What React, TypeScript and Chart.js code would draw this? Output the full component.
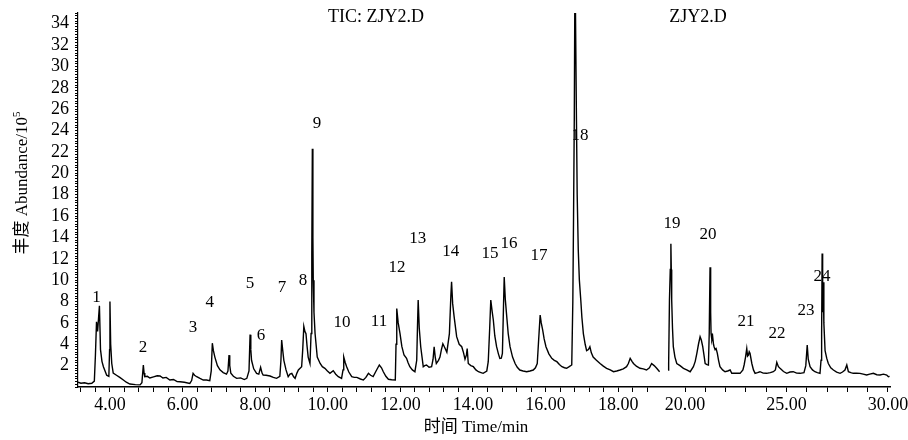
import React, { useEffect, useRef } from 'react';
import { Chart, registerables, LinearScale } from 'chart.js';

Chart.register(...registerables);

// ---- Data: first trace (TIC: ZJY2.D), time in min, abundance in 10^5 ----
const tic1Time = [
  3.12, 3.2, 3.3, 3.4, 3.5, 3.57, 3.6, 3.63, 3.66, 3.71, 3.74, 3.78, 3.82, 3.91, 3.97, 3.99, 4.0, 4.02, 4.05, 4.09,
  4.18, 4.27, 4.37, 4.45, 4.55, 4.7, 4.83, 4.88, 4.92, 4.94, 4.96, 5.03, 5.1, 5.2, 5.3, 5.38, 5.46, 5.55, 5.65, 5.75,
  5.85, 5.93, 6.05, 6.2, 6.25, 6.29, 6.33, 6.39, 6.48, 6.57, 6.66, 6.75, 6.79, 6.82, 6.85, 6.89, 6.96, 7.03, 7.12, 7.21,
  7.25, 7.28, 7.3, 7.33, 7.4, 7.49, 7.6, 7.7, 7.77, 7.83, 7.86, 7.88, 7.9, 7.96, 8.04, 8.1, 8.15, 8.19, 8.22, 8.3,
  8.41, 8.5, 8.59, 8.68, 8.71, 8.73, 8.76, 8.79, 8.85, 8.91, 8.96, 9.01, 9.06, 9.1, 9.15, 9.19, 9.28, 9.31, 9.34, 9.37,
  9.4, 9.43, 9.46, 9.51, 9.54, 9.56, 9.575, 9.59, 9.6, 9.62, 9.65, 9.71, 9.79, 9.85, 9.92, 9.99, 10.06, 10.15, 10.22, 10.29,
  10.38, 10.42, 10.44, 10.48, 10.52, 10.58, 10.66, 10.73, 10.8, 10.9, 10.98, 11.05, 11.12, 11.18, 11.25, 11.33, 11.42, 11.48, 11.53, 11.6,
  11.67, 11.76, 11.86, 11.88, 11.9, 11.94, 11.99, 12.04, 12.1, 12.17, 12.21, 12.26, 12.33, 12.4, 12.45, 12.47, 12.49, 12.52, 12.56, 12.63,
  12.67, 12.72, 12.79, 12.86, 12.9, 12.93, 12.96, 12.99, 13.05, 13.09, 13.13, 13.17, 13.22, 13.28, 13.35, 13.39, 13.41, 13.44, 13.48, 13.55,
  13.62, 13.69, 13.74, 13.78, 13.82, 13.84, 13.87, 13.94, 14.01, 14.08, 14.15, 14.22, 14.28, 14.38, 14.42, 14.46, 14.49, 14.53, 14.56, 14.6,
  14.65, 14.7, 14.74, 14.78, 14.81, 14.84, 14.86, 14.89, 14.93, 14.97, 15.02, 15.09, 15.16, 15.22, 15.29, 15.38, 15.48, 15.57, 15.66, 15.72,
  15.77, 15.81, 15.85, 15.88, 15.92, 15.96, 16.01, 16.09, 16.17, 16.24, 16.31, 16.38, 16.45, 16.52, 16.58, 16.65, 16.72, 16.75, 16.77, 16.79,
  16.81, 16.83, 16.85, 16.87, 16.9, 16.93, 16.97, 17.0, 17.04, 17.09, 17.13, 17.18, 17.22, 17.26, 17.31, 17.4, 17.5, 17.59, 17.68, 17.78,
  17.87, 17.96, 18.05, 18.14, 18.23, 18.28, 18.33, 18.38, 18.42, 18.5, 18.6, 18.69, 18.78, 18.86, 18.92, 18.99, 19.06, 19.14,
];
const tic1Abund = [
  0.45, 0.35, 0.4, 0.3, 0.35, 0.55, 3.0, 6.1, 5.2, 7.6, 3.5, 2.4, 1.9, 1.1, 1.0, 3.5, 8.0, 4.0, 2.2, 1.3,
  1.1, 0.9, 0.65, 0.45, 0.28, 0.22, 0.2, 0.4, 2.05, 1.3, 0.96, 1.0, 0.84, 0.95, 1.05, 1.03, 0.84, 0.9, 0.65, 0.7,
  0.5, 0.49, 0.45, 0.34, 0.6, 1.28, 1.1, 0.96, 0.8, 0.65, 0.65, 0.59, 1.5, 4.1, 3.4, 2.8, 2.0, 1.6, 1.35, 1.2,
  1.5, 2.98, 2.0, 1.28, 1.0, 0.81, 0.85, 0.7, 0.81, 1.5, 4.9, 3.5, 2.5, 1.7, 1.28, 1.2, 1.84, 1.3, 1.12, 1.1,
  1.03, 0.9, 0.81, 1.0, 2.5, 4.4, 3.4, 2.5, 1.6, 0.97, 1.2, 1.28, 0.95, 0.81, 1.3, 1.59, 1.9, 3.5, 5.67, 5.2,
  5.0, 3.8, 2.8, 2.2, 5.0, 12.5, 22.3, 14.0, 10.0, 7.0, 5.0, 2.8, 2.2, 1.9, 1.75, 1.5, 1.28, 1.53, 1.2, 0.97,
  0.81, 1.6, 2.8, 2.3, 1.9, 1.4, 0.97, 0.9, 0.9, 0.75, 0.65, 0.9, 1.28, 1.1, 0.97, 1.5, 2.06, 1.8, 1.43, 1.0,
  0.72, 0.68, 0.65, 4.0, 7.35, 6.0, 5.0, 3.8, 2.99, 2.68, 2.3, 1.9, 1.6, 1.43, 2.5, 5.5, 8.14, 5.5, 3.77, 1.9,
  2.0, 2.06, 1.85, 1.9, 2.6, 3.77, 2.8, 2.2, 2.5, 2.8, 3.5, 4.05, 3.7, 3.26, 5.0, 8.5, 9.85, 7.8, 6.58, 4.71,
  4.0, 3.77, 3.2, 2.6, 3.0, 3.6, 2.2, 2.0, 1.9, 1.6, 1.43, 1.35, 1.28, 1.5, 2.37, 5.5, 8.14, 7.0, 6.27, 4.8,
  3.77, 3.1, 2.68, 2.7, 3.15, 7.5, 10.3, 8.2, 6.58, 5.0, 3.77, 2.8, 2.2, 1.85, 1.59, 1.5, 1.43, 1.5, 1.59, 1.8,
  2.2, 4.5, 6.74, 6.0, 5.33, 4.5, 3.77, 3.1, 2.68, 2.5, 2.37, 2.1, 1.9, 1.8, 1.75, 1.9, 2.06, 8.0, 16.0, 25.0,
  40.0, 40.0, 25.0, 18.0, 12.8, 10.0, 8.1, 6.5, 5.0, 4.0, 3.4, 3.5, 3.77, 3.2, 2.8, 2.5, 2.2, 1.95, 1.75, 1.6,
  1.43, 1.5, 1.59, 1.7, 1.9, 2.2, 2.68, 2.4, 2.2, 1.95, 1.75, 1.7, 1.59, 1.8, 2.2, 2.0, 1.75, 1.43,
];

// ---- Data: second trace (ZJY2.D) ----
const tic2Time = [
  19.16, 19.19, 19.23, 19.27, 19.3, 19.32, 19.34, 19.38, 19.42, 19.5, 19.59, 19.75, 19.92, 20.08, 20.25, 20.41, 20.5, 20.58, 20.66, 20.74,
  20.8, 20.87, 20.93, 20.99, 21.08, 21.15, 21.19, 21.23, 21.26, 21.28, 21.32, 21.36, 21.4, 21.43, 21.48, 21.53, 21.59, 21.65, 21.72, 21.85,
  21.97, 22.1, 22.22, 22.3, 22.5, 22.71, 22.85, 22.91, 22.98, 23.04, 23.08, 23.12, 23.16, 23.2, 23.29, 23.37, 23.45, 23.57, 23.69, 23.85,
  24.02, 24.2, 24.35, 24.45, 24.52, 24.6, 24.68, 24.85, 25.01, 25.17, 25.33, 25.5, 25.67, 25.86, 25.95, 26.02, 26.07, 26.16, 26.28, 26.4,
  26.52, 26.65, 26.7, 26.73, 26.755, 26.77, 26.79, 26.81, 26.84, 26.9, 26.98, 27.06, 27.18, 27.31, 27.47, 27.64, 27.76, 27.88, 27.97, 28.05,
  28.17, 28.29, 28.45, 28.62, 28.78, 28.95, 29.1, 29.28, 29.45, 29.61, 29.78, 29.94, 30.02, 30.08,
];
const tic2Abund = [
  1.59, 2.2, 8.14, 11.0, 13.4, 11.0, 8.14, 5.5, 3.77, 2.8, 2.2, 2.0, 1.75, 1.6, 1.43, 1.9, 2.4, 3.15, 4.0, 4.71,
  4.4, 3.77, 3.0, 2.2, 2.1, 2.06, 5.0, 11.2, 7.0, 5.0, 4.4, 4.71, 4.0, 3.77, 3.5, 3.6, 3.15, 2.5, 1.9, 1.6,
  1.43, 1.5, 1.59, 1.28, 1.3, 1.28, 1.6, 2.06, 2.8, 3.6, 2.9, 2.99, 3.3, 3.15, 2.2, 1.6, 1.28, 1.35, 1.43, 1.3,
  1.28, 1.35, 1.43, 1.6, 2.3, 1.9, 1.75, 1.45, 1.28, 1.4, 1.43, 1.3, 1.28, 1.34, 2.0, 3.93, 2.6, 1.9, 1.6, 1.43,
  1.35, 1.28, 2.5, 5.0, 12.5, 7.0, 8.0, 9.8, 6.0, 3.4, 2.7, 2.2, 1.8, 1.59, 1.4, 1.28, 1.4, 1.59, 2.06, 1.43,
  1.35, 1.28, 1.3, 1.28, 1.2, 1.12, 1.2, 1.28, 1.15, 1.12, 1.2, 1.12, 0.97, 1.0,
];

// ---- Peak labels ----
const peakNumbers = ['1','2','3','4','5','6','7','8','9','10','11','12','13','14','15','16','17','18','19','20','21','22','23','24'];
const peakLabelTime = [3.63, 4.91, 6.29, 6.75, 7.86, 8.16, 8.74, 9.32, 9.7, 10.39, 11.41, 11.91, 12.48, 13.39, 14.47, 14.99, 15.82, 16.95, 19.36, 21.13, 23.0, 24.53, 25.96, 26.75];
const peakLabelAbund = [8.33, 3.74, 5.61, 7.95, 9.64, 4.86, 9.35, 10.0, 24.7, 5.99, 6.08, 11.2, 13.9, 12.7, 12.5, 13.4, 12.3, 23.5, 15.3, 14.3, 6.08, 5.05, 7.11, 10.3];

const traceTitles = ['TIC: ZJY2.D', 'ZJY2.D'];
const traceTitleTime = [11.33, 20.64];
const traceTitleAbund = [34.6, 34.6];

// ---- Axis ticks and titles ----
const xLabelValues = [4, 6, 8, 10, 12, 14, 16, 18, 20, 25, 30];
const xTickLabels = ['4.00', '6.00', '8.00', '10.00', '12.00', '14.00', '16.00', '18.00', '20.00', '25.00', '30.00'];
const yLabelValues = [2, 4, 6, 8, 10, 12, 14, 16, 18, 20, 22, 24, 26, 28, 30, 32, 34];
const yTickLabels = ['2', '4', '6', '8', '10', '12', '14', '16', '18', '20', '22', '24', '26', '28', '30', '32', '34'];
const xTitle = '时间 Time/min';
const yTitleMain = '丰度 Abundance/10';
const yTitleSup = '5';

const xMinorTicks: number[] = [];
for (let i = 8; i <= 47; i++) xMinorTicks.push(Math.round(i * 40) / 100);
for (let v = 20; v <= 30; v++) xMinorTicks.push(v);

// broken time axis: two segments sharing one axis line
const SEGMENTS = [
  { min: 3.12, max: 19.15, from: 0, to: 0.7167 },
  { min: 19.15, max: 30.1, from: 0.7264, to: 1 },
];

class BrokenTimeScale extends LinearScale {
  static id = 'brokenTime';
  static defaults = {};
  buildTicks() {
    this.min = SEGMENTS[0].min;
    this.max = SEGMENTS[SEGMENTS.length - 1].max;
    return xMinorTicks.map((v) => ({ value: v }));
  }
  getPixelForValue(value: number) {
    let seg = SEGMENTS[0];
    for (const s of SEGMENTS) if (value >= s.min) seg = s;
    const frac = seg.from + ((value - seg.min) / (seg.max - seg.min)) * (seg.to - seg.from);
    return this.left + frac * this.width;
  }
  getValueForPixel(pixel: number) {
    const frac = (pixel - this.left) / this.width;
    let seg = SEGMENTS[0];
    for (const s of SEGMENTS) if (frac >= s.from) seg = s;
    return seg.min + ((frac - seg.from) / (seg.to - seg.from)) * (seg.max - seg.min);
  }
}
Chart.register(BrokenTimeScale as any);

const SERIF = '"Liberation Serif", "Times New Roman", "Noto Sans CJK SC", serif';

const annotationPlugin = {
  id: 'peakAnnotations',
  afterDatasetsDraw(chart: any) {
    const { ctx, scales, chartArea } = chart;
    const x = scales.x;
    const y = scales.y;
    ctx.save();
    ctx.fillStyle = '#000';
    ctx.textAlign = 'center';
    ctx.textBaseline = 'middle';
    ctx.font = `17px ${SERIF}`;
    peakNumbers.forEach((n, i) => {
      ctx.fillText(n, x.getPixelForValue(peakLabelTime[i]), y.getPixelForValue(peakLabelAbund[i]));
    });
    ctx.font = `18px ${SERIF}`;
    traceTitles.forEach((t, i) => {
      ctx.fillText(t, x.getPixelForValue(traceTitleTime[i]), y.getPixelForValue(traceTitleAbund[i]));
    });
    // x-axis title
    ctx.font = `17px ${SERIF}`;
    ctx.fillText(xTitle, (chartArea.left + chartArea.right) / 2 - 8, chartArea.bottom + 41);
    // y-axis title with superscript
    ctx.font = `17px ${SERIF}`;
    const wMain = ctx.measureText(yTitleMain).width;
    ctx.font = `11px ${SERIF}`;
    const wSup = ctx.measureText(yTitleSup).width;
    const total = wMain + wSup;
    const cy = (chartArea.top + chartArea.bottom) / 2 - 17;
    ctx.translate(23, cy);
    ctx.rotate(-Math.PI / 2);
    ctx.textAlign = 'left';
    ctx.font = `17px ${SERIF}`;
    ctx.fillText(yTitleMain, -total / 2, 0);
    ctx.font = `11px ${SERIF}`;
    ctx.fillText(yTitleSup, -total / 2 + wMain, -6);
    ctx.restore();
  },
};

export default function App() {
  const canvasRef = useRef<HTMLCanvasElement | null>(null);

  useEffect(() => {
    document.body.style.margin = '0';
    const canvas = canvasRef.current;
    if (!canvas) return;
    const chart = new Chart(canvas, {
      type: 'line',
      data: {
        datasets: [
          {
            data: tic1Time.map((t, i) => ({ x: t, y: tic1Abund[i] })),
            borderColor: '#000',
            borderWidth: 1.4,
            pointRadius: 0,
            tension: 0,
            fill: false,
          },
          {
            data: tic2Time.map((t, i) => ({ x: t, y: tic2Abund[i] })),
            borderColor: '#000',
            borderWidth: 1.4,
            pointRadius: 0,
            tension: 0,
            fill: false,
          },
        ],
      },
      options: {
        responsive: false,
        animation: false,
        events: [],
        layout: { padding: { top: 13, right: 18, left: 0, bottom: 0 } },
        plugins: { legend: { display: false }, tooltip: { enabled: false } },
        scales: {
          x: {
            type: 'brokenTime' as any,
            min: 3.12,
            max: 30.1,
            ticks: {
              autoSkip: false,
              maxRotation: 0,
              minRotation: 0,
              padding: 2,
              color: '#000',
              font: { family: SERIF, size: 18 },
              callback: (value: any) => {
                const idx = xLabelValues.findIndex((v) => Math.abs(v - Number(value)) < 1e-6);
                return idx >= 0 ? xTickLabels[idx] : '';
              },
            },
            grid: { drawOnChartArea: false, drawTicks: true, tickLength: 5, color: '#000', lineWidth: 1 },
            border: { display: true, color: '#000', width: 1.5 },
            title: { display: false },
            afterFit: (s: any) => {
              s.height = 53;
              s.paddingLeft = 0;
              s.paddingRight = 0;
            },
          } as any,
          y: {
            type: 'linear',
            min: 0,
            max: 35,
            ticks: {
              stepSize: 0.25,
              autoSkip: false,
              padding: 6,
              color: '#000',
              font: { family: SERIF, size: 18 },
              callback: (value: any) => {
                const idx = yLabelValues.findIndex((v) => Math.abs(v - Number(value)) < 1e-6);
                return idx >= 0 ? yTickLabels[idx] : '';
              },
            },
            grid: { drawOnChartArea: false, drawTicks: true, tickLength: 3, color: '#000', lineWidth: 1 },
            border: { display: true, color: '#000', width: 1.2 },
            afterFit: (s: any) => {
              s.width = 78;
              s.paddingTop = 0;
              s.paddingBottom = 0;
            },
          },
        },
      },
      plugins: [annotationPlugin],
    });
    return () => chart.destroy();
  }, []);

  return (
    <div style={{ width: 908, height: 440, background: '#fff' }}>
      <canvas ref={canvasRef} width={908} height={440} />
    </div>
  );
}
